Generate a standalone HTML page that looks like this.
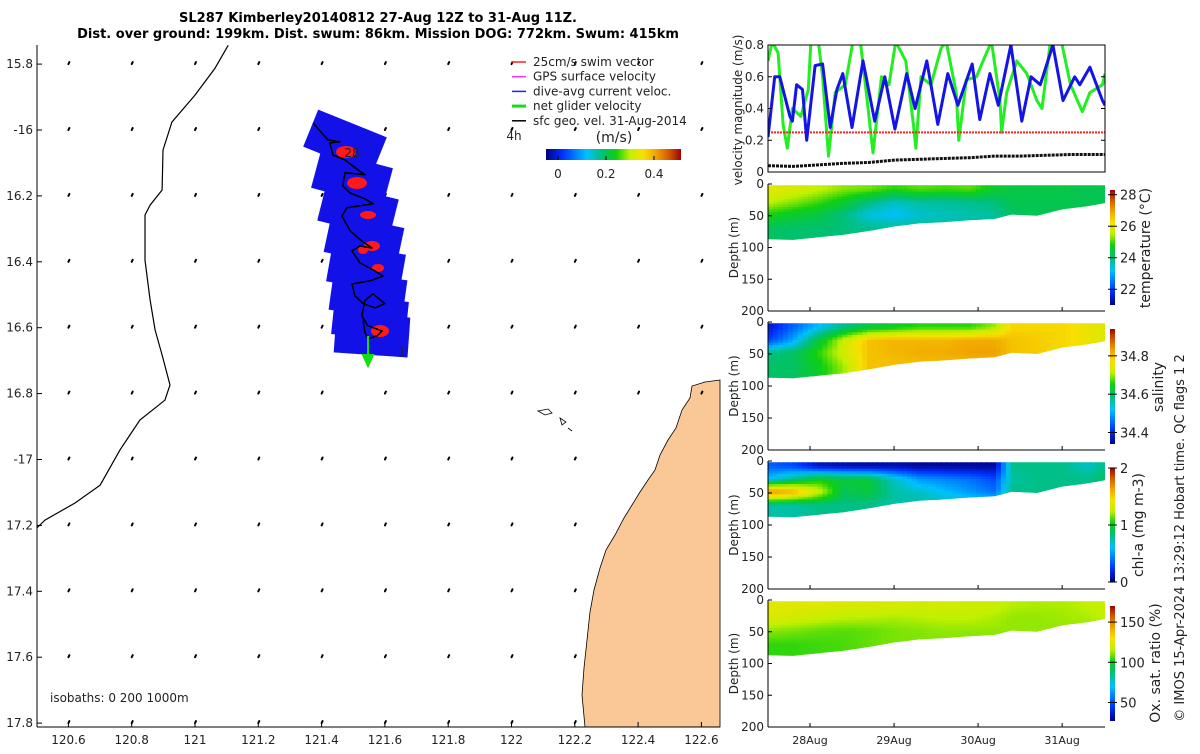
<!DOCTYPE html>
<html><head><meta charset="utf-8">
<style>
html,body{margin:0;padding:0;background:#fff;}
body{width:1200px;height:750px;overflow:hidden;font-family:"DejaVu Sans","Liberation Sans",sans-serif;}
svg text{font-family:"DejaVu Sans","Liberation Sans",sans-serif;fill:#222;}
</style></head>
<body>
<svg id="fig" width="1200" height="750" viewBox="0 0 1200 750" xmlns="http://www.w3.org/2000/svg">
<defs>
<linearGradient id="jetH" x1="0" x2="1" y1="0" y2="0">
<stop offset="0" stop-color="#000080"/><stop offset="0.12" stop-color="#0030ff"/><stop offset="0.3" stop-color="#00c0ff"/><stop offset="0.42" stop-color="#00c070"/><stop offset="0.52" stop-color="#10d010"/><stop offset="0.62" stop-color="#c0f000"/><stop offset="0.72" stop-color="#f8e000"/><stop offset="0.82" stop-color="#f0a000"/><stop offset="0.92" stop-color="#d05000"/><stop offset="1" stop-color="#a00000"/>
</linearGradient>
<linearGradient id="jetV" x1="0" x2="0" y1="1" y2="0">
<stop offset="0" stop-color="#000080"/><stop offset="0.12" stop-color="#0030ff"/><stop offset="0.3" stop-color="#00c0ff"/><stop offset="0.42" stop-color="#00c070"/><stop offset="0.52" stop-color="#10d010"/><stop offset="0.62" stop-color="#c0f000"/><stop offset="0.72" stop-color="#f8e000"/><stop offset="0.82" stop-color="#f0a000"/><stop offset="0.92" stop-color="#d05000"/><stop offset="1" stop-color="#a00000"/>
</linearGradient>
</defs>
<g>
<text x="378" y="22" text-anchor="middle" font-size="13" font-weight="bold" style="fill:#000">SL287 Kimberley20140812 27-Aug 12Z to 31-Aug 11Z.</text>
<text x="378" y="38" text-anchor="middle" font-size="13" font-weight="bold" style="fill:#000">Dist. over ground: 199km. Dist. swum: 86km. Mission DOG: 772km. Swum: 415km</text>
</g>
<g id="map"></g>
<g id="right"></g>
</svg>
<script>
const NS="http://www.w3.org/2000/svg";
function mk(p,tag,attrs){const e=document.createElementNS(NS,tag);for(const k in attrs)e.setAttribute(k,attrs[k]);p.appendChild(e);return e;}
function tx(p,x,y,s,size,anchor,extra){const e=mk(p,'text',Object.assign({x:x,y:y,'font-size':size||12,'text-anchor':anchor||'middle'},extra||{}));e.textContent=s;return e;}

// ===== MAP DATA =====
const lonTicks=[120.6,120.8,121,121.2,121.4,121.6,121.8,122,122.2,122.4,122.6];
const lonLabels=["120.6","120.8","121","121.2","121.4","121.6","121.8","122","122.2","122.4","122.6"];
const latTicks=[15.8,16,16.2,16.4,16.6,16.8,17,17.2,17.4,17.6,17.8];
const latLabels=["15.8","-16","16.2","16.4","16.6","16.8","-17","17.2","17.4","17.6","17.8"];
const coastLon=[121.105,121.063,121.0,120.927,120.899,120.896,120.858,120.842,120.842,120.858,120.874,120.896,120.921,120.905,120.826,120.763,120.700,120.621,120.526,120.5];
const coastLat=[15.743,15.813,15.894,15.976,16.061,16.182,16.228,16.258,16.395,16.516,16.607,16.683,16.774,16.820,16.880,16.971,17.078,17.132,17.184,17.208];
const trackLon=[121.373,121.42,121.458,121.426,121.436,121.474,121.515,121.537,121.474,121.467,121.49,121.537,121.563,121.48,121.464,121.49,121.527,121.559,121.521,121.496,121.521,121.569,121.594,121.553,121.496,121.505,121.531,121.569,121.600,121.562,121.537,121.527,121.546,121.591,121.575,121.546,121.537,121.531];
const trackLat=[15.979,16.030,16.036,16.039,16.076,16.091,16.121,16.136,16.130,16.170,16.191,16.209,16.224,16.236,16.261,16.306,16.337,16.358,16.352,16.367,16.403,16.428,16.443,16.458,16.467,16.503,16.527,16.540,16.527,16.497,16.518,16.564,16.594,16.610,16.625,16.633,16.615,16.578];

const MX0=37,MX1=720,MY0=45,MY1=727;
function lonX(v){return 195+(v-121)/0.2*63.3;}
function latY(v){return 130+(v-16)/0.2*65.9;}
const map=document.getElementById('map');
const land=mk(map,'path',{d:"M720,380 L705,382 L692,386 L690,398 L682,410 L676,428 L668,440 L660,455 L655,470 L648,480 L640,492 L632,505 L624,518 L615,535 L606,550 L600,568 L594,590 L590,612 L587,640 L584,668 L582,695 L585,727 L720,727 Z",fill:"#f9c896",stroke:"#000","stroke-width":0.8});


const isl=mk(map,'path',{d:"M538,411 L548,409 L552,413 L545,415 Z M560,418 L566,422 L562,425 Z M568,428 L572,431",fill:"none",stroke:"#000","stroke-width":0.8});


let cd="";coastLon.forEach((v,i)=>{cd+=(i?"L":"M")+lonX(v).toFixed(1)+","+latY(coastLat[i]).toFixed(1)+" ";});
const cst=mk(map,'path',{d:cd,fill:"none",stroke:"#000","stroke-width":1.2});


lonTicks.forEach((lo,i)=>latTicks.forEach((la,j)=>{
  const x=lonX(lo),y=latY(la);
  if(x>585 && y>420) return;
  const a=mk(map,'path',{d:`M${x},${y} l1,-2`,stroke:"#000","stroke-width":2,"stroke-linecap":"round"});
  
  
}));
const sw=mk(map,'g',{});


const boxes=[[345,142,22],[352,178,15],[358,210,14],[364,240,12],[366,268,10],[368,295,8],[370,318,6],[372,335,4]];
boxes.forEach(b=>{mk(sw,'rect',{x:b[0]-37,y:b[1]-20,width:74,height:40,fill:"#1212e8",transform:`rotate(${b[2]} ${b[0]} ${b[1]})`});});
[[346,152,10,6],[357,183,10,6],[368,215,8,4],[372,246,8,5],[378,268,6,4],[380,331,9,6],[363,250,5,4]].forEach(r=>{mk(sw,'ellipse',{cx:r[0],cy:r[1],rx:r[2],ry:r[3],fill:"#ff1a1a"});});
let td="";trackLon.forEach((v,i)=>{td+=(i?"L":"M")+lonX(v).toFixed(1)+","+latY(trackLat[i]).toFixed(1)+" ";});
const tr=mk(map,'path',{d:td,fill:"none",stroke:"#000","stroke-width":1.5,"stroke-linejoin":"round"});


const ga=mk(map,'path',{d:"M368,336 L368,360 M363,355 L368,366 L373,355 Z",stroke:"#10e010","stroke-width":2,fill:"#10e010"});


tx(map,352,157,"28",12);tx(map,402,356,"1",12);tx(map,514,140,"4h",12);
const ax=mk(map,'g',{stroke:"#000","stroke-width":1});


mk(ax,'line',{x1:MX0,y1:MY1,x2:MX1,y2:MY1});mk(ax,'line',{x1:MX0,y1:MY0,x2:MX0,y2:MY1});
lonTicks.forEach((v,i)=>{const x=lonX(v);mk(ax,'line',{x1:x,y1:MY1,x2:x,y2:MY1-5});const t=tx(map,x,744,lonLabels[i],12);});
latTicks.forEach((v,i)=>{const y=latY(v);mk(ax,'line',{x1:MX0,y1:y,x2:MX0+5,y2:y});const t=tx(map,33,y+4,latLabels[i],12,'end');});
tx(map,50,702,"isobaths: 0   200  1000m",12,'start',{'xml:space':'preserve'});
const lg=mk(map,'g',{});


const legItems=[["25cm/s swim vector","#ff2020"],["GPS surface velocity","#ff30ff"],["dive-avg current veloc.","#2020ff"],["net glider velocity","#10e010"],["sfc geo. vel. 31-Aug-2014","#000"]];
legItems.forEach((it,i)=>{const y=62+i*14.7;mk(lg,'line',{x1:512,y1:y,x2:526,y2:y,stroke:it[1],"stroke-width":i==3?3:1.5});tx(lg,533,y+4,it[0],12,'start');});
const cb=mk(map,'rect',{x:546,y:149,width:135,height:11,fill:"url(#jetH)"});


tx(map,614,142,"(m/s)",14);
[[0,"0"],[0.2,"0.2"],[0.4,"0.4"]].forEach(t=>{const x=558+t[0]*240;mk(map,'line',{x1:x,y1:160,x2:x,y2:156,stroke:"#000"});tx(map,x,178,t[1],12);});

// ===== RIGHT PANELS DATA =====
const RX0=768,RX1=1105,T0=27.5,T1=31.51;
function tX(t){return RX0+(t-T0)/(T1-T0)*(RX1-RX0);}
const blueT=[27.5,27.58,27.64,27.76,27.79,27.84,27.91,27.96,28.06,28.15,28.24,28.32,28.39,28.5,28.63,28.77,28.89,29.01,29.15,29.25,29.39,29.52,29.64,29.76,29.93,30.02,30.14,30.24,30.39,30.52,30.63,30.74,30.89,31.01,31.15,31.21,31.33,31.48,31.51];
const blueV=[0.22,0.6,0.6,0.35,0.32,0.55,0.52,0.2,0.67,0.68,0.28,0.52,0.62,0.28,0.7,0.32,0.6,0.27,0.62,0.4,0.7,0.3,0.62,0.42,0.68,0.33,0.62,0.42,0.8,0.32,0.6,0.55,0.8,0.45,0.6,0.55,0.66,0.45,0.42];
const greenT=[27.5,27.55,27.62,27.68,27.73,27.79,27.89,27.98,28.01,28.1,28.15,28.22,28.3,28.42,28.51,28.6,28.68,28.75,28.85,28.94,29.02,29.14,29.23,29.26,29.32,29.44,29.56,29.62,29.74,29.77,29.86,29.98,30.1,30.16,30.26,30.28,30.34,30.46,30.58,30.7,30.76,30.86,30.94,31.0,31.1,31.24,31.33,31.48,31.51];
const greenV=[0.7,0.85,0.75,0.3,0.15,0.4,0.35,0.52,0.85,0.85,0.6,0.1,0.5,0.55,0.85,0.85,0.45,0.12,0.6,0.55,0.85,0.7,0.3,0.15,0.6,0.55,0.78,0.85,0.5,0.2,0.58,0.6,0.75,0.85,0.45,0.25,0.5,0.7,0.62,0.45,0.4,0.85,0.85,0.8,0.55,0.38,0.5,0.55,0.62];
const swimV=0.25;
const sfcT=[27.5,27.8,28.1,28.4,28.7,29.0,29.3,29.6,29.9,30.2,30.5,30.8,31.1,31.51];
const sfcV=[0.04,0.035,0.045,0.055,0.06,0.075,0.08,0.085,0.09,0.1,0.1,0.105,0.11,0.11];
const dateTicks=[28,29,30,31];
const dateLabels=["28Aug","29Aug","30Aug","31Aug"];

const R=document.getElementById('right');
const VY0=45,VY1=172;
function vY(v){return VY1-Math.min(v,0.82)/0.8*(VY1-VY0);}
const vp=mk(R,'g',{});


const clip=mk(vp,'clipPath',{id:'vclip'});mk(clip,'rect',{x:RX0,y:VY0,width:RX1-RX0,height:VY1-VY0});
function line(p,T,V,col,w,dash){let d="";T.forEach((t,i)=>{d+=(i?"L":"M")+tX(t).toFixed(1)+","+vY(V[i]).toFixed(1)+" ";});return mk(p,'path',{d:d,fill:"none",stroke:col,"stroke-width":w,"clip-path":"url(#vclip)","stroke-dasharray":dash||"none","stroke-linejoin":"round"});}
const gl=line(vp,greenT,greenV,"#22ee22",3);
const rl=mk(vp,'line',{x1:RX0,x2:RX1,y1:vY(swimV),y2:vY(swimV),stroke:"#ff2020","stroke-width":2,"stroke-dasharray":"2 1"});
const bl=line(vp,blueT,blueV,"#1414e6",3);
const kl=line(vp,sfcT,sfcV,"#111",3,"3 1");
mk(vp,'rect',{x:RX0,y:VY0,width:RX1-RX0,height:VY1-VY0,fill:"none",stroke:"#000"});
[0,0.2,0.4,0.6,0.8].forEach(v=>{const y=vY(v);mk(vp,'line',{x1:RX0,x2:RX0+4,y1:y,y2:y,stroke:"#000"});mk(vp,'line',{x1:RX1,x2:RX1-4,y1:y,y2:y,stroke:"#000"});tx(vp,764,y+4,String(v),12,'end');});
tx(vp,0,0,"velocity magnitude (m/s)",12,'middle',{transform:"translate(742,110) rotate(-90)"});

// ===== SECTIONS DATA =====
const secT=[27.5,27.8,28.1,28.4,28.7,29.0,29.3,29.6,29.9,30.2,30.4,30.7,31.0,31.3,31.51];
const bottomD=[87,88,84,80,74,67,62,60,57,55,48,50,40,35,30];
const tempS=[26.0,25.8,25.6,25.3,25.2,24.9,25.1,25.0,25.1,24.6,24.4,24.4,24.4,24.3,24.3];
const tempU=[25.6,25.3,25.0,24.6,24.0,23.6,23.8,23.8,23.9,24.0,24.3,24.3,24.3,24.3,24.3];
const tempM=[24.8,24.6,24.4,24.0,23.4,23.2,23.5,23.6,23.7,23.8,24.2,24.3,24.3,24.3,24.3];
const tempD=[24.2,24.1,24.1,24.0,23.9,23.8,23.8,23.8,23.8,23.8,24.0,24.2,24.2,24.2,24.2];
const salS=[34.38,34.45,34.52,34.58,34.62,34.64,34.66,34.66,34.66,34.7,34.78,34.78,34.78,34.76,34.74];
const salU=[34.42,34.5,34.62,34.72,34.80,34.81,34.81,34.81,34.82,34.82,34.80,34.79,34.78,34.76,34.74];
const salM=[34.58,34.6,34.66,34.73,34.80,34.81,34.82,34.82,34.83,34.83,34.80,34.79,34.78,34.76,34.74];
const salD=[34.6,34.6,34.64,34.7,34.8,34.8,34.8,34.8,34.8,34.8,34.8,34.8,34.8,34.8,34.8];
const chlS=[0.35,0.3,0.12,0.08,0.06,0.08,0.05,0.05,0.05,0.05,0.8,0.8,0.8,0.7,0.8];
const chlU=[0.6,0.8,1.0,0.95,0.95,0.7,0.5,0.45,0.4,0.3,0.75,0.8,0.8,0.8,0.85];
const chlM=[1.7,1.6,1.3,0.9,0.95,0.75,0.7,0.6,0.5,0.4,0.8,0.8,0.8,0.8,0.85];
const chlD=[0.75,0.75,0.8,0.8,0.8,0.75,0.75,0.75,0.75,0.75,0.8,0.8,0.8,0.8,0.8];
const oxS=[125,124,124,122,122,121,120,120,119,118,115,114,114,116,118];
const oxU=[122,120,118,116,115,114,115,116,116,114,112,112,113,114,116];
const oxM=[112,110,108,107,108,110,111,112,112,112,112,112,112,112,112];
const oxD=[104,104,105,106,108,110,110,110,110,110,110,110,110,110,110];

const stops=[[0,[0,0,128]],[0.12,[0,48,255]],[0.3,[0,192,255]],[0.42,[0,192,112]],[0.52,[16,208,16]],[0.62,[192,240,0]],[0.72,[248,224,0]],[0.82,[240,160,0]],[0.92,[208,80,0]],[1,[160,0,0]]];
function cmap(f){f=Math.max(0,Math.min(1,f));for(let i=1;i<stops.length;i++){if(f<=stops[i][0]){const a=stops[i-1],b=stops[i],u=(f-a[0])/(b[0]-a[0]);const c=a[1].map((v,k)=>Math.round(v+(b[1][k]-v)*u));return `rgb(${c[0]},${c[1]},${c[2]})`;}}return "rgb(160,0,0)";}
function interp(xs,ys,x){if(x<=xs[0])return ys[0];for(let i=1;i<xs.length;i++){if(x<=xs[i]){const u=(x-xs[i-1])/(xs[i]-xs[i-1]);return ys[i-1]+(ys[i]-ys[i-1])*u;}}return ys[ys.length-1];}

const panels=[
 {name:'temperature',y0:184,y1:311,cb0:190,cb1:305,vmin:21,vmax:28.3,L:[tempS,tempU,tempM,tempD],ticks:[22,24,26,28],lab:"temperature (°C)",lx:1150,ly:248},
 {name:'salinity',y0:322,y1:450,cb0:329,cb1:444,vmin:34.34,vmax:34.94,L:[salS,salU,salM,salD],ticks:[34.4,34.6,34.8],lab:"salinity",lx:1163,ly:387},
 {name:'chlorophyll',y0:461,y1:589,cb0:468,cb1:582,vmin:0,vmax:2,L:[chlS,chlU,chlM,chlD],ticks:[0,1,2],lab:"chl-a (mg m-3)",lx:1143,ly:525},
 {name:'oxygen',y0:600,y1:727,cb0:606,cb1:721,vmin:27,vmax:170,L:[oxS,oxU,oxM,oxD],ticks:[50,100,150],lab:"Ox. sat. ratio (%)",lx:1160,ly:663}
];
const bandMid=[8,28,48,70];
panels.forEach((P,pi)=>{
  const g=mk(R,'g',{});
  
  
  const dY=d=>P.y0+d/200*(P.y1-P.y0);
  let cd=`M${tX(T0)},${dY(2)} `;
  secT.forEach((t,i)=>{cd+=`L${tX(t).toFixed(1)},${dY(bottomD[i]).toFixed(1)} `;});
  cd+=`L${tX(T1)},${dY(2)} Z`;
  const cp=mk(g,'clipPath',{id:'sc'+pi});mk(cp,'path',{d:cd});
  const cells=mk(g,'g',{'clip-path':`url(#sc${pi})`});
  const nC=68,dStep=4;
  for(let c=0;c<nC;c++){
    const t=T0+(c+0.5)/nC*(T1-T0);
    const xa=tX(T0+c/nC*(T1-T0)), xb=tX(T0+(c+1)/nC*(T1-T0));
    const lv=P.L.map(a=>interp(secT,a,t));
    const bot=interp(secT,bottomD,t);
    for(let d=0;d<bot+dStep;d+=dStep){
      const v=interp(bandMid,lv,d+dStep/2);
      const r=mk(cells,'rect',{x:xa.toFixed(1),y:dY(d).toFixed(1),width:(xb-xa+0.6).toFixed(1),height:(dY(d+dStep)-dY(d)+0.6).toFixed(1),fill:cmap((v-P.vmin)/(P.vmax-P.vmin))});
      
      
    }
  }
  mk(g,'line',{x1:RX0,y1:P.y0,x2:RX0,y2:P.y1,stroke:"#000"});
  mk(g,'line',{x1:RX0,y1:P.y1,x2:RX1,y2:P.y1,stroke:"#000"});
  [0,50,100,150,200].forEach(d=>{const y=dY(d);mk(g,'line',{x1:RX0,x2:RX0+4,y1:y,y2:y,stroke:"#000"});tx(g,764,y+4,String(d),12,'end');});
  tx(g,0,0,"Depth (m)",12,'middle',{transform:`translate(738,${(P.y0+P.y1)/2}) rotate(-90)`});
  dateTicks.forEach(t=>{const x=tX(t);mk(g,'line',{x1:x,x2:x,y1:P.y1,y2:P.y1-4,stroke:"#000"});});
  const c=mk(g,'rect',{x:1110,y:P.cb0,width:5,height:P.cb1-P.cb0,fill:"url(#jetV)"});
  
  
  P.ticks.forEach(v=>{const y=P.cb1-(v-P.vmin)/(P.vmax-P.vmin)*(P.cb1-P.cb0);mk(g,'line',{x1:1108,x2:1117,y1:y,y2:y,stroke:"#000"});tx(g,1120,y+5,String(v),13,'start');});
  tx(g,0,0,P.lab,14,'middle',{transform:`translate(${P.lx},${P.ly}) rotate(-90)`});
});
dateTicks.forEach((t,i)=>{const e=tx(R,tX(t),744,dateLabels[i],11);});
tx(R,0,0,"© IMOS 15-Apr-2024 13:29:12 Hobart time. QC flags 1  2",13,'middle',{transform:"translate(1184,538) rotate(-90)",'xml:space':'preserve'});
</script>
</body></html>
